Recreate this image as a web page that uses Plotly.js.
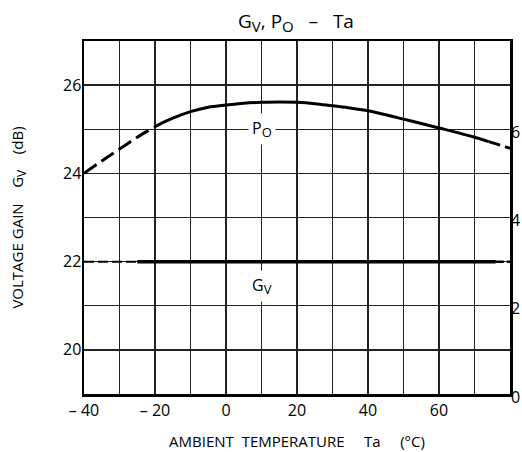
<!DOCTYPE html>
<html>
<head>
<meta charset="utf-8">
<script src="https://cdn.plot.ly/plotly-3.0.1.min.js"></script>
<style>html,body{margin:0;padding:0;background:#fff;}#chart{width:522px;height:452px;}</style>
</head>
<body>
<div id="chart"></div>
<script>
// Ambient temperature (°C)
var tempDashStart = [-40, -35, -30, -25, -20];
var poDashStart   = [5.00, 5.28, 5.55, 5.82, 6.06];
var tempSolid = [-20, -15, -10, -5, 0, 5, 10, 15, 20, 25, 30, 35, 40, 45, 50, 55, 60, 65, 70, 74];
var poSolid   = [6.06, 6.25, 6.40, 6.50, 6.55, 6.59, 6.61, 6.62, 6.61, 6.58, 6.53, 6.48, 6.42, 6.33, 6.23, 6.13, 6.03, 5.93, 5.82, 5.72];
var tempDashEnd = [74, 80];
var poDashEnd   = [5.72, 5.57];
// Voltage gain Gv (dB)
var tempGvDash1 = [-40, -25];
var gvDash1 = [22, 22];
var tempGvSolid = [-25, 76];
var gvSolid = [22, 22];
var tempGvDash2 = [76, 80];
var gvDash2 = [22, 22];

var xTickVals = [-40, -20, 0, 20, 40, 60];
var xTickText = ['\u2013 40', '\u2013 20', '0', '20', '40', '60'];
var yTickVals = [20, 22, 24, 26];
var yTickText = ['20', '22', '24', '26'];
var y2TickVals = [0, 2, 4, 6];
var y2TickText = ['0', '2', '4', '6'];

var FONT = 'Open Sans, Liberation Sans, sans-serif';
function sub(t, px) { return '<sub><span style="font-size:' + px + 'px">' + t + '</span></sub>'; }

var traces = [
  {x: tempDashStart, y: poDashStart, yaxis: 'y2', mode: 'lines', line: {color: '#000', width: 3, dash: '15px,6px', shape: 'spline'}, hoverinfo: 'skip'},
  {x: tempSolid, y: poSolid, yaxis: 'y2', mode: 'lines', line: {color: '#000', width: 3, shape: 'spline'}, hoverinfo: 'skip'},
  {x: tempDashEnd, y: poDashEnd, yaxis: 'y2', mode: 'lines', line: {color: '#000', width: 3, dash: '12px,5px'}, hoverinfo: 'skip'},
  {x: tempGvDash1, y: gvDash1, mode: 'lines', line: {color: '#000', width: 2, dash: '10px,4px'}, hoverinfo: 'skip'},
  {x: tempGvSolid, y: gvSolid, mode: 'lines', line: {color: '#000', width: 3.5}, hoverinfo: 'skip'},
  {x: tempGvDash2, y: gvDash2, mode: 'lines', line: {color: '#000', width: 2.5, dash: '8px,3px'}, hoverinfo: 'skip'}
];

var layout = {
  width: 522, height: 452,
  margin: {l: 84, r: 12, t: 41, b: 58},
  paper_bgcolor: '#fff', plot_bgcolor: '#fff',
  showlegend: false,
  font: {family: FONT, color: '#000', size: 14},
  title: {text: 'G' + sub('V', 15) + ', P' + sub('O', 15) + '\u00a0 \u00a0\u2013\u00a0 \u00a0Ta', font: {family: FONT, size: 19, color: '#000'}, x: 0.567, xanchor: 'center', y: 0.952, yanchor: 'middle'},
  xaxis: {
    range: [-40, 80], tickmode: 'array', tickvals: xTickVals, ticktext: xTickText,
    showgrid: true, gridcolor: '#222', gridwidth: 1.3, zeroline: false,
    minor: {tick0: -40, dtick: 10, showgrid: true, gridcolor: '#222', gridwidth: 1.3, ticks: ''},
    showline: true, linecolor: '#000', linewidth: 2.5, mirror: true, ticks: '',
    tickfont: {family: FONT, size: 16, color: '#000'},
    title: {text: 'AMBIENT\u00a0 TEMPERATURE \u00a0\u00a0\u00a0 Ta \u00a0\u00a0\u00a0 (\u00b0C)', font: {family: FONT, size: 15, color: '#000'}, standoff: 17}
  },
  yaxis: {
    range: [19, 27], tickmode: 'array', tickvals: yTickVals, ticktext: yTickText,
    showgrid: true, gridcolor: '#222', gridwidth: 1.3, zeroline: false,
    minor: {tick0: 19, dtick: 1, showgrid: true, gridcolor: '#222', gridwidth: 1.3, ticks: ''},
    showline: true, linecolor: '#000', linewidth: 2.5, mirror: true, ticks: '',
    ticklabelstandoff: -3,
    tickfont: {family: FONT, size: 16, color: '#000'},
    title: {text: 'VOLTAGE GAIN \u00a0\u00a0 G' + sub('V', 12) + ' \u00a0\u00a0 (dB)', font: {family: FONT, size: 15, color: '#000'}, standoff: 36}
  },
  yaxis2: {
    range: [0, 8], overlaying: 'y', side: 'right', tickmode: 'array', tickvals: y2TickVals, ticktext: y2TickText,
    showgrid: false, zeroline: false, showline: false, ticks: '',
    ticklabelstandoff: 0, ticklabelshift: 3,
    tickfont: {family: FONT, size: 16, color: '#000'}
  },
  annotations: [
    {x: 10, y: 25, xref: 'x', yref: 'y', text: 'P' + sub('O', 13), showarrow: false, bgcolor: '#fff', font: {family: FONT, size: 16, color: '#000'}, borderpad: 3},
    {x: 10, y: 21.45, xref: 'x', yref: 'y', text: 'G' + sub('V', 13), showarrow: false, bgcolor: '#fff', font: {family: FONT, size: 16, color: '#000'}, borderpad: 3}
  ]
};

Plotly.newPlot('chart', traces, layout, {staticPlot: true, displayModeBar: false});
</script>
</body>
</html>
